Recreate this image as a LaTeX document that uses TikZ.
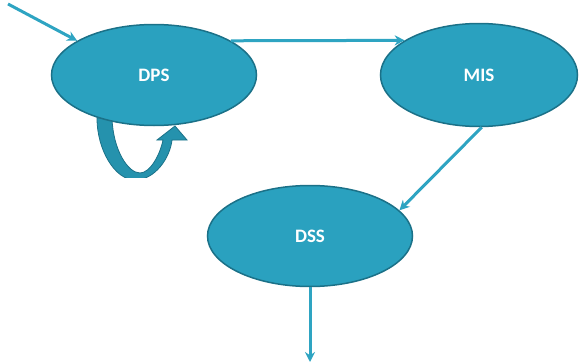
\documentclass[tikz,border=0pt]{standalone}
\usepackage{fontspec}
\setmainfont{Carlito}
\usetikzlibrary{arrows.meta,shapes.geometric}
\definecolor{tealfill}{HTML}{2AA1BF}
\definecolor{tealedge}{HTML}{1B7188}
\definecolor{tealline}{HTML}{2EA4C2}
\definecolor{loopfill}{HTML}{2592AD}
\begin{document}
\begin{tikzpicture}[x=1pt,y=-1pt,
  bubble/.style={ellipse,fill=tealfill,draw=tealedge,line width=1.5pt,
    minimum width=205pt,minimum height=101pt,inner sep=0pt,
    text=white,font=\bfseries\fontsize{19}{22}\selectfont},
  conn/.style={draw=tealline,line width=3pt,-{Stealth[length=10pt,width=10pt]}}]
\useasboundingbox (0,0) rectangle (579,364);
% self loop (U-turn arrow), behind the ellipse
\begin{scope}
\clip (80,100) rectangle (200,177);
\fill[loopfill,draw=tealedge,line width=0.8pt]
  (97,118) .. controls (97,150) and (115,180) .. (135,180)
  .. controls (155,180) and (170,158) .. (172,140)
  -- (187,140) -- (175,126) -- (157,140) -- (163,140)
  .. controls (160,155) and (150,173) .. (140,173)
  .. controls (128,173) and (113,150) .. (112,118) -- cycle;
\end{scope}
\node[bubble] (DPS) at (154,75) {DPS};
\node[bubble,minimum width=197pt,minimum height=103pt] (MIS) at (479,75) {MIS};
\node[bubble] (DSS) at (310,236) {DSS};
\coordinate (in) at (8,4);
\coordinate (out) at (310,362);
\draw[conn] (in) -- (DPS.156);
\draw[conn] (DPS.24) -- (MIS.155.6);
\draw[conn] (MIS.-87) -- (DSS.16);
\draw[conn] (DSS.south) -- (out);
\end{tikzpicture}
\end{document}
